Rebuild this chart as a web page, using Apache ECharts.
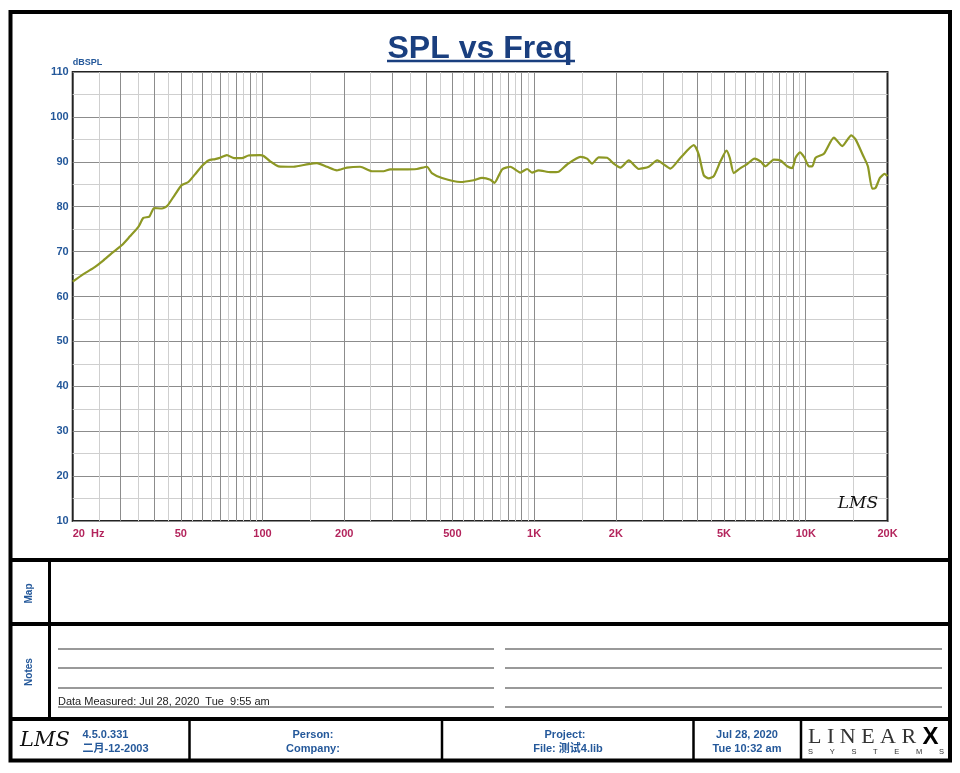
<!DOCTYPE html>
<html>
<head>
<meta charset="utf-8">
<script src="https://cdn.jsdelivr.net/npm/echarts@6/dist/echarts.min.js"></script>
<style>
html, body { margin: 0; padding: 0; background: #fff; }
#container { width: 960px; height: 773px; }
</style>
</head>
<body>
<div id="container"></div>
<script>
// frequency (Hz) and level (dBSPL)
var freqs = [20, 21.9, 23.8, 25.9, 27.8, 30.3, 32.5, 34.9, 36.4, 38.3,
  39.9, 42.6, 44.6, 47.6, 50.4, 53.3, 56.4, 59.7, 63.2, 66.9,
  69.8, 73.9, 78.6, 83.9, 88.7, 98, 101, 106.7, 114.5, 130,
  147.6, 158.6, 172.6, 187.8, 204.5, 228.8, 252.8, 279, 295, 330,
  370, 403, 420, 458, 535, 599, 643, 690, 714, 762,
  817, 889, 942, 982, 1039, 1148, 1231, 1322, 1480, 1566,
  1634, 1729, 1857, 1963, 2078, 2230, 2427, 2642, 2837, 3176,
  3458, 3870, 4038, 4212, 4396, 4586, 4853, 5108, 5252, 5434,
  5750, 6086, 6475, 6814, 7110, 7628, 8075, 8546, 8920, 9172,
  9512, 9900, 10266, 10568, 10868, 11664, 12694, 13628, 14712, 15260,
  16288, 16938, 17580, 18080, 18752, 19514, 20000];
var spl = [63.3, 65.0, 66.3, 68.0, 69.6, 71.4, 73.4, 75.5, 77.5, 77.8,
  79.7, 79.6, 80.2, 82.7, 84.8, 85.5, 87.2, 89.0, 90.3, 90.6,
  90.9, 91.5, 90.8, 90.8, 91.4, 91.5, 91.3, 90.1, 89.0, 88.9,
  89.5, 89.7, 88.9, 88.1, 88.7, 88.9, 87.9, 87.9, 88.3, 88.3,
  88.4, 88.9, 87.5, 86.4, 85.5, 85.9, 86.4, 86.0, 85.3, 88.3,
  88.9, 87.6, 88.4, 87.6, 88.1, 87.7, 87.8, 89.4, 91.1, 90.7,
  89.6, 91.0, 90.9, 89.6, 88.7, 90.3, 88.4, 88.9, 90.3, 88.5,
  90.9, 93.7, 91.6, 87.0, 86.3, 86.8, 90.1, 92.5, 90.9, 87.5,
  88.6, 89.5, 90.7, 90.1, 89.0, 90.5, 90.3, 89.0, 88.6, 90.9,
  92.1, 90.9, 89.0, 89.0, 90.9, 91.8, 95.4, 93.5, 95.9, 95.0,
  91.3, 89.0, 84.0, 84.2, 86.4, 87.3, 86.8];

var xTickValues = [20, 50, 100, 200, 500, 1000, 2000, 5000, 10000, 20000];
var xTickLabels = ['20  Hz', '50', '100', '200', '500', '1K', '2K', '5K', '10K', '20K'];
var yMin = 10, yMax = 110, yStep = 10;

var blue = '#24589a';
var red = '#b3245c';

var dom = document.getElementById('container');
var myChart = echarts.init(dom);

// vertical log grid: dark at 1..9 x decade, light at the half steps
var gridLines = [];
[10, 100, 1000, 10000].forEach(function (dec) {
  for (var k = 1; k <= 10; k += 0.5) {
    var f = Math.round(k * dec);
    if (f <= 20 || f >= 20000) continue;
    var major = (k % 1 === 0);
    gridLines.push({
      xAxis: f,
      lineStyle: { color: major ? '#8c8c8c' : '#cfcfcf', width: 1, type: 'solid' }
    });
  }
});

function txt(x, y, s, opt) {
  opt = opt || {};
  return {
    type: 'text', x: x, y: y, rotation: opt.rot || 0, silent: true, z: 10,
    style: {
      text: s,
      fill: opt.color || blue,
      font: opt.font || 'bold 11px "Liberation Sans", Arial, sans-serif',
      textAlign: opt.align || 'center',
      textVerticalAlign: 'middle'
    }
  };
}
function ln(x1, y1, x2, y2, w, c) {
  return {
    type: 'line', silent: true, z: 10,
    shape: { x1: x1, y1: y1, x2: x2, y2: y2 },
    style: { stroke: c || '#000', lineWidth: w }
  };
}

var graphics = [
  { type: 'rect', silent: true, z: 10, shape: { x: 10.5, y: 12, width: 939.5, height: 748.5 },
    style: { fill: 'none', stroke: '#000', lineWidth: 4 } },
  ln(10, 560, 950, 560, 4),
  ln(10, 624, 950, 624, 4),
  ln(10, 719, 950, 719, 4),
  ln(49.5, 560, 49.5, 719, 3),
  ln(189.5, 719, 189.5, 760, 2.5),
  ln(442, 719, 442, 760, 2.5),
  ln(693.5, 719, 693.5, 760, 2.5),
  ln(801, 719, 801, 760, 2.5),
  // title underline
  ln(387, 61, 575, 61, 2.5, '#1a3f7f'),
  txt(29.5, 593.5, 'Map', { rot: Math.PI / 2, font: 'bold 10px "Liberation Sans", Arial, sans-serif' }),
  txt(29.5, 672, 'Notes', { rot: Math.PI / 2, font: 'bold 10px "Liberation Sans", Arial, sans-serif' }),
  txt(58, 702, 'Data Measured: Jul 28, 2020  Tue  9:55 am',
    { align: 'left', color: '#222', font: '11px "Liberation Sans", Arial, sans-serif' }),
  txt(858, 504, 'LMS', { color: '#111', font: 'italic 17px "DejaVu Serif", serif' }),
  txt(45, 741, 'LMS', { color: '#111', font: 'italic 21px "DejaVu Serif", serif' }),
  txt(82.5, 735, '4.5.0.331', { align: 'left' }),
  txt(82.5, 749, '二月-12-2003', { align: 'left', font: 'bold 11px "Liberation Sans", "Noto Sans CJK SC", sans-serif' }),
  txt(313, 735, 'Person:'),
  txt(313, 749, 'Company:'),
  txt(565, 735, 'Project:'),
  txt(568, 749, 'File: 测试4.lib', { font: 'bold 11px "Liberation Sans", "Noto Sans CJK SC", sans-serif' }),
  txt(747, 735, 'Jul 28, 2020'),
  txt(747, 749, 'Tue 10:32 am'),
  txt(808, 737, 'L I N E A R', { align: 'left', color: '#333', font: '22px "Liberation Serif", serif' }),
  txt(930.5, 737, 'X', { color: '#000', font: 'bold 24px "Liberation Sans", Arial, sans-serif' }),
  txt(876, 752, 'S        Y        S        T        E        M        S', { color: '#333', font: '7.5px "Liberation Sans", Arial, sans-serif' })
];

// notes ruling, two columns
[649, 668, 688, 707].forEach(function (y) {
  graphics.push(ln(58, y, 494, y, 1.3, '#777'));
  graphics.push(ln(505, y, 942, y, 1.3, '#777'));
});

var option = {
  animation: false,
  backgroundColor: '#fff',
  title: {
    text: 'SPL vs Freq',
    left: 'center',
    top: 28,
    textStyle: { fontSize: 32, fontWeight: 'bold', color: '#1a3f7f', fontFamily: '"Liberation Sans", Arial, sans-serif' }
  },
  grid: {
    left: 72.7, right: 72.5, top: 72, bottom: 252,
    show: true, borderColor: '#222', borderWidth: 2, containLabel: false
  },
  xAxis: {
    type: 'log',
    logBase: 10,
    min: 20,
    max: 20000,
    axisLine: { show: false },
    axisTick: { show: false },
    splitLine: { show: false },
    axisLabel: {
      customValues: xTickValues,
      margin: 7,
      color: red,
      fontWeight: 'bold',
      fontSize: 11,
      fontFamily: '"Liberation Sans", Arial, sans-serif',
      alignMinLabel: 'left',
      formatter: function (v) {
        var i = xTickValues.indexOf(Math.round(v));
        return i >= 0 ? xTickLabels[i] : '';
      }
    }
  },
  yAxis: {
    type: 'value',
    min: yMin,
    max: yMax,
    interval: yStep,
    name: 'dBSPL',
    nameLocation: 'end',
    nameGap: 4,
    nameTextStyle: { align: 'left', verticalAlign: 'bottom', color: blue, fontSize: 9, fontWeight: 'bold',
      fontFamily: '"Liberation Sans", Arial, sans-serif' },
    axisLine: { show: false },
    axisTick: { show: false },
    axisLabel: { color: blue, fontWeight: 'bold', fontSize: 11, margin: 4,
      fontFamily: '"Liberation Sans", Arial, sans-serif' },
    splitLine: { show: true, lineStyle: { color: '#8c8c8c', width: 1 } },
    minorTick: { show: false, splitNumber: 2 },
    minorSplitLine: { show: true, lineStyle: { color: '#cfcfcf', width: 1 } }
  },
  series: [
    {
      name: 'grid',
      type: 'line',
      data: [],
      silent: true,
      z: 1,
      markLine: {
        silent: true,
        symbol: ['none', 'none'],
        label: { show: false },
        emphasis: { disabled: true },
        data: gridLines
      }
    },
    {
      name: 'SPL',
      type: 'line',
      z: 5,
      showSymbol: false,
      smooth: 0.2,
      lineStyle: { color: '#8d9824', width: 2.2 },
      data: freqs.map(function (f, i) { return [f, spl[i]]; })
    }
  ],
  graphic: graphics
};
myChart.setOption(option);
</script>
</body>
</html>
